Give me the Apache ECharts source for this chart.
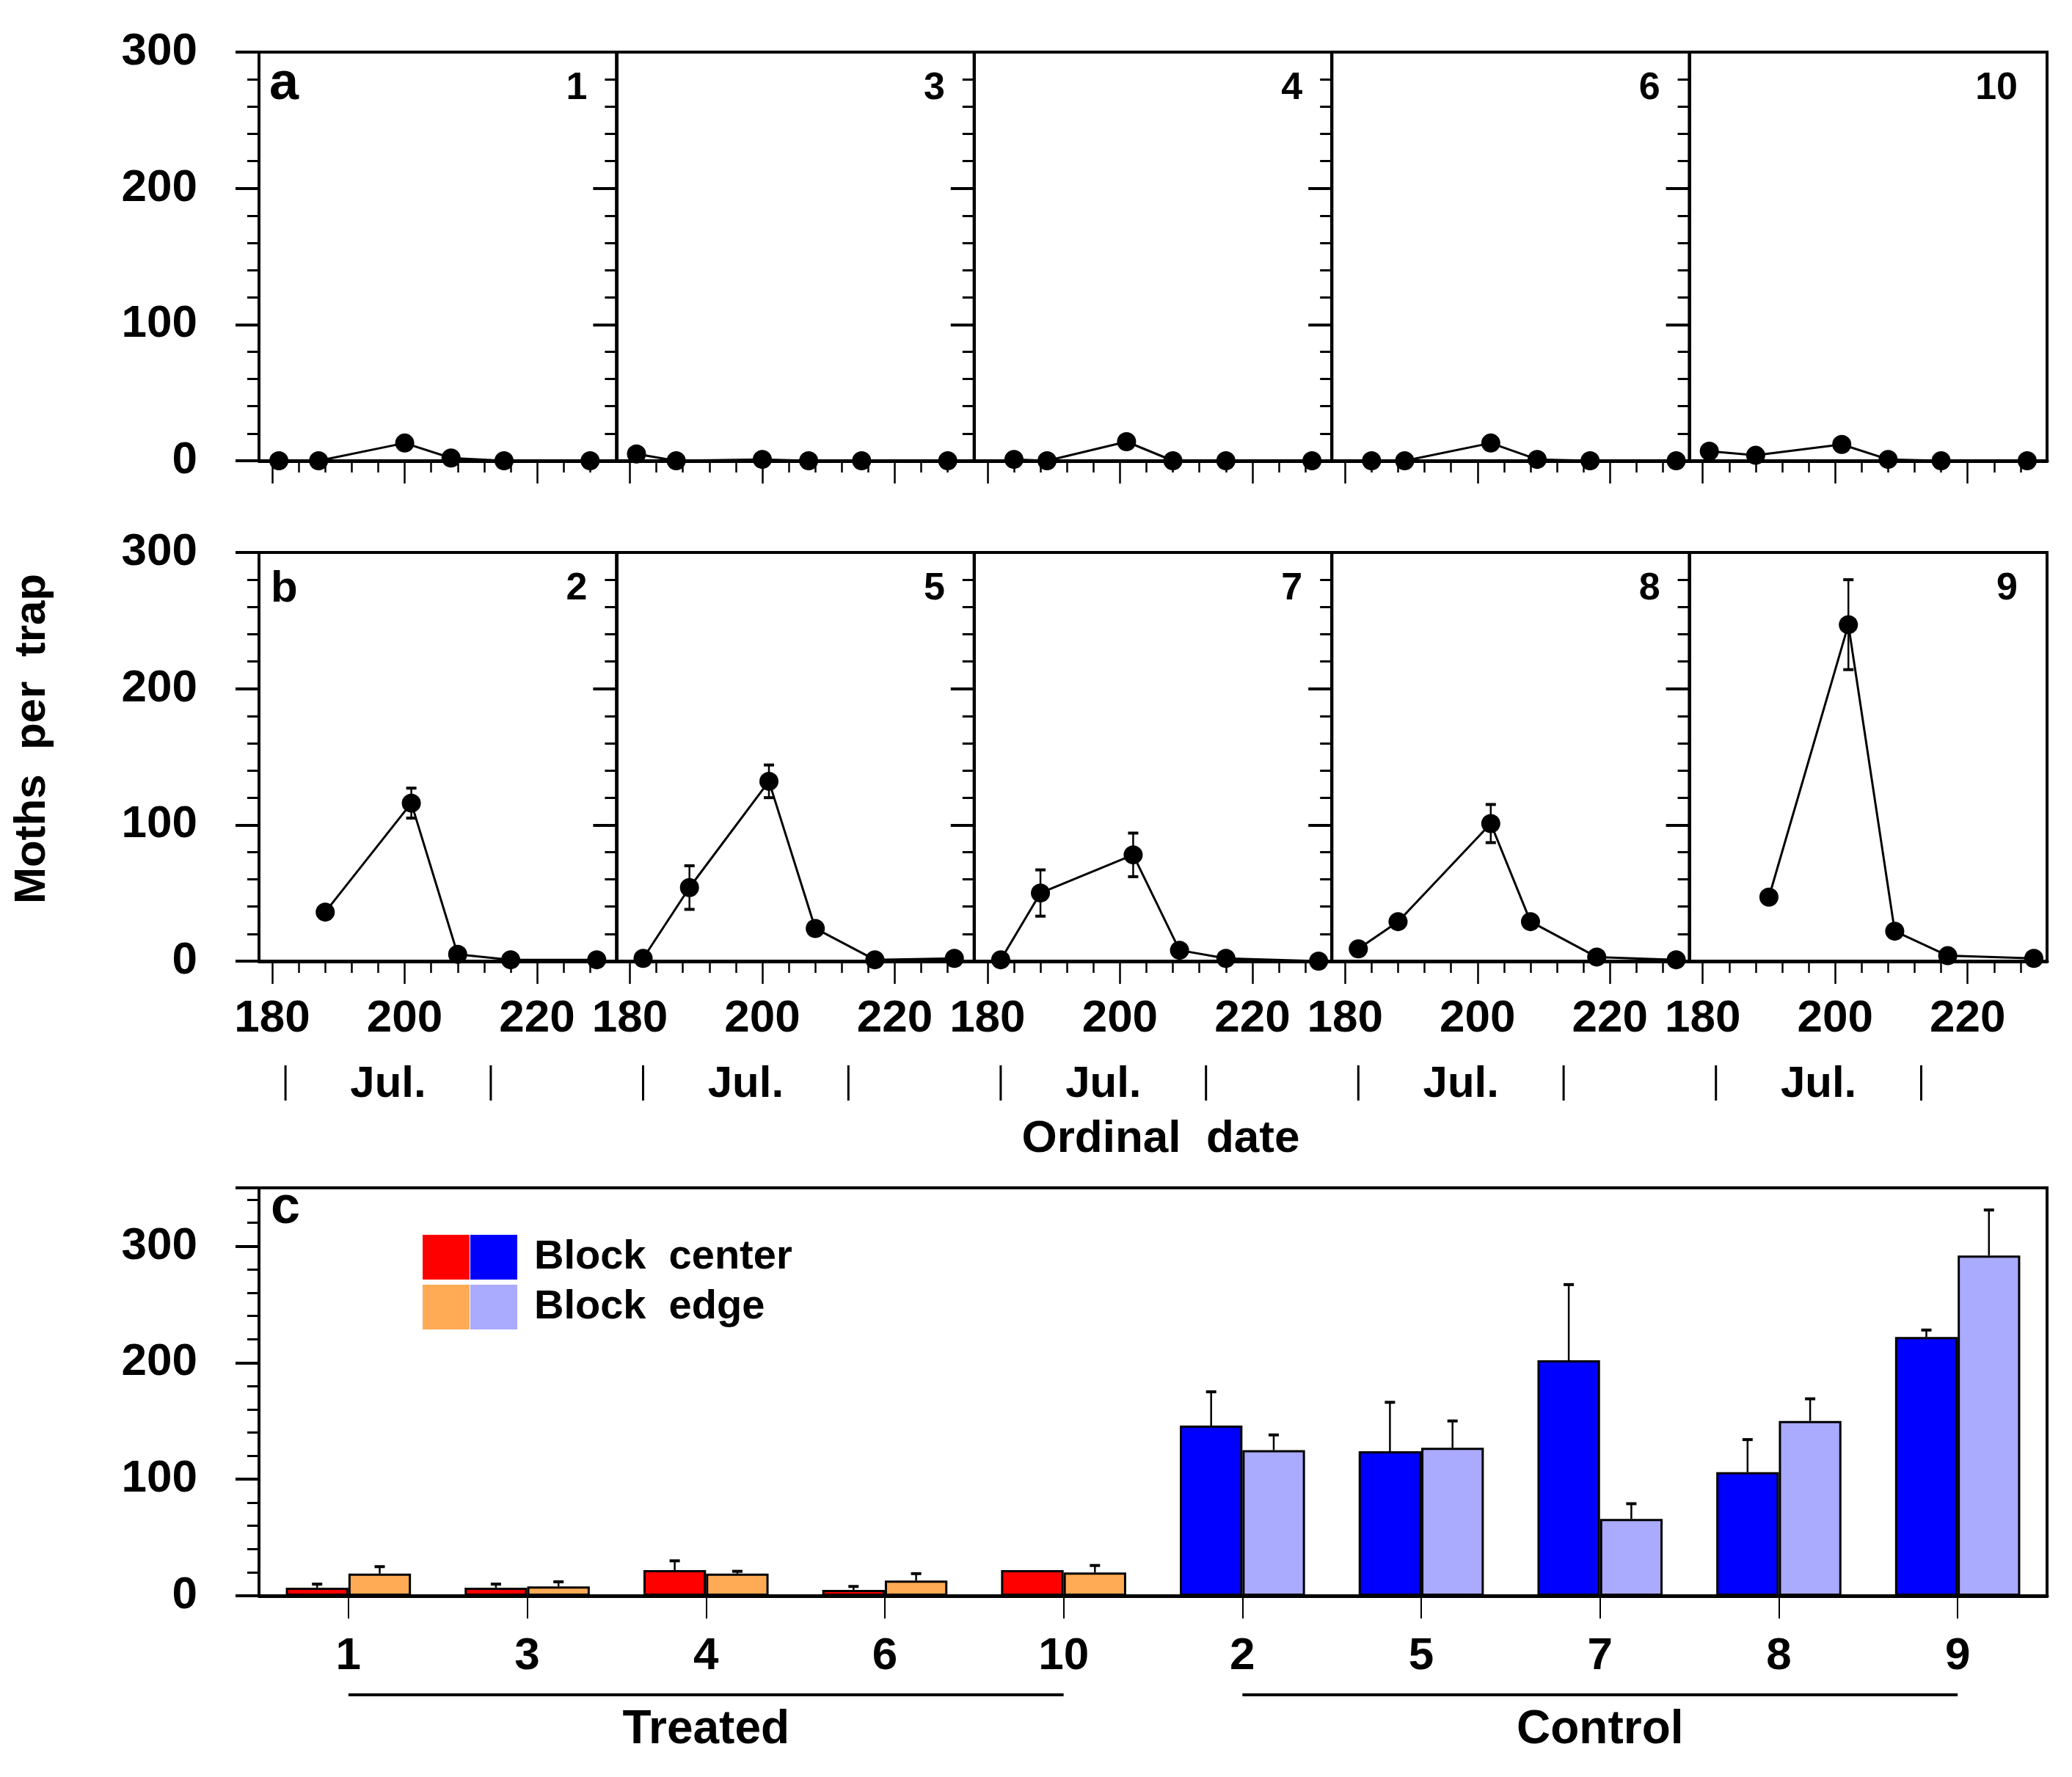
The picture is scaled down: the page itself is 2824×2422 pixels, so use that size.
<!DOCTYPE html>
<html lang="en">
<head>
    <meta charset="UTF-8">
    <title>Moths per trap</title>
    <style>
        html, body { margin: 0; padding: 0; background: #fff; }
        #main { width: 2824px; height: 2422px; }
    </style>
</head>
<body>
    <div id="main"></div>
    <script src="https://cdn.jsdelivr.net/npm/echarts@6/dist/echarts.min.js"></script>
    <script>
        // ---- data ----
        var trapsA = ['1', '3', '4', '6', '10'];
        var trapsB = ['2', '5', '7', '8', '9'];

        var daysA = [
            [181, 187, 200, 207, 215, 228],
            [181, 187, 200, 207, 215, 228],
            [184, 189, 201, 208, 216, 229],
            [184, 189, 202, 209, 217, 230],
            [181, 188, 201, 208, 216, 229]
        ];
        var mothsA = [
            [0, 0, 13, 2, 0, 0],
            [5, 0, 1, 0, 0, 0],
            [1, 0, 14, 0, 0, 0],
            [0, 0, 13, 1, 0, 0],
            [7, 4, 12, 1, 0, 0]
        ];
        var daysB = [
            [188, 201, 208, 216, 229],
            [182, 189, 201, 208, 217, 229],
            [182, 188, 202, 209, 216, 230],
            [182, 188, 202, 208, 218, 230],
            [190, 202, 209, 217, 230]
        ];
        var mothsB = [
            [36, 116, 5, 1, 1],
            [2, 54, 132, 24, 1, 2],
            [1, 50, 78, 8, 2, 0],
            [9, 29, 101, 29, 3, 1],
            [47, 247, 22, 4, 2]
        ];
        var errB = [
            [0, 11, 0, 0, 0],
            [0, 16, 12, 0, 0, 0],
            [0, 17, 16, 0, 0, 0],
            [0, 0, 14, 0, 0, 0],
            [0, 33, 0, 0, 0]
        ];
        var dayTicks = [180, 200, 220];
        var monthBounds = [182, 213];
        var monthName = 'Jul.';

        var barCats = ['1', '3', '4', '6', '10', '2', '5', '7', '8', '9'];
        var barGroup = ['Treated', 'Treated', 'Treated', 'Treated', 'Treated',
                        'Control', 'Control', 'Control', 'Control', 'Control'];
        var centerMean = [7, 7, 22, 5, 22, 146, 124, 202, 106, 222];
        var centerErr = [3, 3, 8, 3, 0, 29, 42, 65, 28, 6];
        var edgeMean = [19, 8, 19, 13, 20, 125, 127, 66, 150, 292];
        var edgeErr = [6, 4, 2, 6, 6, 13, 23, 13, 19, 39];
        var groupNames = ['Treated', 'Control'];
        var legendNames = ['Block  center', 'Block  edge'];

        var colCenter = { Treated: '#ff0000', Control: '#0000ff' };
        var colEdge = { Treated: '#ffaa55', Control: '#aaaaff' };

        // ---- layout ----
        var FONT = '"Liberation Sans", Arial, sans-serif';
        var panelLeft = 353, panelW = 487.4;
        var rowTop = [71, 753], rowH = 557;
        var barGrid = { left: 353, top: 1619, width: 2437, height: 556 };

        var chart = echarts.init(document.getElementById('main'));

        var grids = [], xAxes = [], yAxes = [], series = [];

        function errRender(params, api) {
            var e = api.value(2);
            if (!e) return null;
            var x = api.coord([api.value(0), api.value(1)])[0];
            var yTop = api.coord([api.value(0), api.value(1) + e])[1];
            var yBot = api.coord([api.value(0), api.value(1) - e])[1];
            var st = { stroke: '#000', lineWidth: 2.5 };
            return {
                type: 'group',
                children: [
                    { type: 'line', shape: { x1: x, y1: yTop, x2: x, y2: yBot }, style: st },
                    { type: 'line', shape: { x1: x - 7, y1: yTop, x2: x + 7, y2: yTop }, style: { stroke: '#000', lineWidth: 4 } },
                    { type: 'line', shape: { x1: x - 7, y1: yBot, x2: x + 7, y2: yBot }, style: { stroke: '#000', lineWidth: 4 } }
                ]
            };
        }

        var rows = [
            { traps: trapsA, days: daysA, moths: mothsA, err: null },
            { traps: trapsB, days: daysB, moths: mothsB, err: errB }
        ];

        rows.forEach(function (row, r) {
            row.traps.forEach(function (trap, c) {
                var k = r * 5 + c;
                grids.push({
                    left: panelLeft + c * panelW, top: rowTop[r], width: panelW, height: rowH,
                    show: true, borderColor: '#000', borderWidth: 4, backgroundColor: 'transparent'
                });
                xAxes.push({
                    type: 'value', gridIndex: k, min: 178, max: 232, splitNumber: 3,
                    axisLine: { show: true, onZero: false, lineStyle: { color: '#000', width: 5 } },
                    axisTick: { show: true, length: 31, customValues: dayTicks, lineStyle: { color: '#000', width: 2.5 } },
                    minorTick: { show: true, splitNumber: 5, length: 16, lineStyle: { color: '#000', width: 2.5 } },
                    axisLabel: {
                        show: r === 1, customValues: dayTicks, margin: 48,
                        fontSize: 62, fontWeight: 'bold', fontFamily: FONT, color: '#000'
                    },
                    splitLine: { show: false }
                });
                yAxes.push({
                    type: 'value', gridIndex: k, min: 0, max: 300, interval: 100,
                    axisLine: { show: true, lineStyle: { color: '#000', width: 4 } },
                    axisTick: { show: true, length: 32, lineStyle: { color: '#000', width: 4 } },
                    minorTick: { show: true, splitNumber: 5, length: 16, lineStyle: { color: '#000', width: 3 } },
                    axisLabel: {
                        show: c === 0, margin: 84,
                        fontSize: 62, fontWeight: 'bold', fontFamily: FONT, color: '#000'
                    },
                    splitLine: { show: false }
                });
                var pts = row.days[c].map(function (d, i) { return [d, row.moths[c][i]]; });
                if (row.err) {
                    series.push({
                        type: 'custom', xAxisIndex: k, yAxisIndex: k, z: 1,
                        renderItem: errRender, clip: false,
                        data: row.days[c].map(function (d, i) { return [d, row.moths[c][i], row.err[c][i]]; })
                    });
                }
                series.push({
                    type: 'line', name: 'Trap ' + trap, xAxisIndex: k, yAxisIndex: k, z: 3,
                    data: pts, symbol: 'circle', symbolSize: 26, showSymbol: true,
                    itemStyle: { color: '#000' }, lineStyle: { color: '#000', width: 3 }
                });
            });
        });

        // panel c: bars
        var bk = 10;
        grids.push({
            left: barGrid.left, top: barGrid.top, width: barGrid.width, height: barGrid.height,
            show: true, borderColor: '#000', borderWidth: 4
        });
        xAxes.push({
            type: 'category', gridIndex: bk, data: barCats,
            axisLine: { show: true, lineStyle: { color: '#000', width: 5 } },
            axisTick: { show: true, alignWithLabel: true, length: 31, lineStyle: { color: '#000', width: 2 } },
            axisLabel: { margin: 52, fontSize: 62, fontWeight: 'bold', fontFamily: FONT, color: '#000' },
            splitLine: { show: false }
        });
        yAxes.push({
            type: 'value', gridIndex: bk, min: 0, max: 350, interval: 100,
            axisLine: { show: true, lineStyle: { color: '#000', width: 4 } },
            axisTick: { show: true, length: 32, lineStyle: { color: '#000', width: 4 } },
            minorTick: { show: true, splitNumber: 5, length: 16, lineStyle: { color: '#000', width: 3 } },
            axisLabel: {
                margin: 84, showMaxLabel: false,
                fontSize: 62, fontWeight: 'bold', fontFamily: FONT, color: '#000'
            },
            splitLine: { show: false }
        });

        var barCatGap = 0.3;
        series.push({
            type: 'bar', name: legendNames[0], xAxisIndex: bk, yAxisIndex: bk,
            barGap: '0%', barCategoryGap: (barCatGap * 100) + '%',
            data: centerMean.map(function (v, i) {
                return { value: v, itemStyle: { color: colCenter[barGroup[i]] } };
            }),
            itemStyle: { borderColor: '#000', borderWidth: 3 }
        });
        series.push({
            type: 'bar', name: legendNames[1], xAxisIndex: bk, yAxisIndex: bk,
            barGap: '0%', barCategoryGap: (barCatGap * 100) + '%',
            data: edgeMean.map(function (v, i) {
                return { value: v, itemStyle: { color: colEdge[barGroup[i]] } };
            }),
            itemStyle: { borderColor: '#000', borderWidth: 3 }
        });

        function barErrRender(params, api) {
            var e = api.value(2);
            if (!e) return null;
            var band = api.size([1, 0])[0];
            var bw = band * (1 - barCatGap) / 2;
            var side = api.value(3) ? 1 : -1;
            var base = api.coord([api.value(0), api.value(1)]);
            var x = base[0] + side * bw / 2;
            var yTop = api.coord([api.value(0), api.value(1) + e])[1];
            return {
                type: 'group',
                children: [
                    { type: 'line', shape: { x1: x, y1: base[1], x2: x, y2: yTop }, style: { stroke: '#000', lineWidth: 2.5 } },
                    { type: 'line', shape: { x1: x - 7, y1: yTop, x2: x + 7, y2: yTop }, style: { stroke: '#000', lineWidth: 4 } }
                ]
            };
        }
        series.push({
            type: 'custom', xAxisIndex: bk, yAxisIndex: bk, z: 1, clip: false,
            renderItem: barErrRender,
            data: centerMean.map(function (v, i) { return [i, v, centerErr[i], 0]; })
        });
        series.push({
            type: 'custom', xAxisIndex: bk, yAxisIndex: bk, z: 1, clip: false,
            renderItem: barErrRender,
            data: edgeMean.map(function (v, i) { return [i, v, edgeErr[i], 1]; })
        });

        chart.setOption({
            animation: false,
            backgroundColor: '#fff',
            grid: grids,
            xAxis: xAxes,
            yAxis: yAxes,
            series: series
        });

        // ---- annotations ----
        var g = [];
        function txt(x, y, s, size, align, extra) {
            var o = {
                type: 'text', x: x, y: y, z: 100,
                style: {
                    text: s, fontSize: size, fontWeight: 'bold', fontFamily: FONT, fill: '#000',
                    align: align || 'center', verticalAlign: 'middle'
                }
            };
            if (extra) for (var key in extra) o[key] = extra[key];
            return o;
        }

        // panel letters and trap numbers
        g.push(txt(panelLeft + 14, rowTop[0] + 44, 'a', 72, 'left'));
        g.push(txt(panelLeft + 16, rowTop[1] + 50, 'b', 60, 'left'));
        g.push(txt(barGrid.left + 16, barGrid.top + 28, 'c', 72, 'left'));
        rows.forEach(function (row, r) {
            row.traps.forEach(function (trap, c) {
                g.push(txt(panelLeft + (c + 1) * panelW - 40, rowTop[r] + 50, trap, 52, 'right'));
            });
        });

        // month markers under row b
        for (var c = 0; c < 5; c++) {
            var k = 5 + c;
            var xa = chart.convertToPixel({ xAxisIndex: k }, monthBounds[0]);
            var xb = chart.convertToPixel({ xAxisIndex: k }, monthBounds[1]);
            [xa, xb].forEach(function (x) {
                g.push({ type: 'line', z: 100, shape: { x1: x, y1: 1452, x2: x, y2: 1500 }, style: { stroke: '#000', lineWidth: 3 } });
            });
            var xm = chart.convertToPixel({ xAxisIndex: k }, (monthBounds[0] + monthBounds[1]) / 2);
            g.push(txt(xm, 1478, monthName, 60, 'center'));
        }
        g.push(txt(1582, 1553, 'Ordinal  date', 62, 'center'));
        g.push(txt(44, 1007, 'Moths  per  trap', 60, 'center', { rotation: Math.PI / 2 }));

        // legend for panel c
        var lx = 576, ly = [1683, 1751], sq = 64;
        legendNames.forEach(function (name, i) {
            var cols = i === 0 ? [colCenter.Treated, colCenter.Control] : [colEdge.Treated, colEdge.Control];
            cols.forEach(function (col, j) {
                g.push({ type: 'rect', z: 100, shape: { x: lx + j * (sq + 1), y: ly[i], width: sq, height: 61 }, style: { fill: col } });
            });
            g.push(txt(lx + 2 * sq + 24, ly[i] + 31, name, 56, 'left'));
        });

        // Treated / Control brackets
        groupNames.forEach(function (name) {
            var first = barGroup.indexOf(name), last = barGroup.lastIndexOf(name);
            var x1 = chart.convertToPixel({ xAxisIndex: bk }, barCats[first]);
            var x2 = chart.convertToPixel({ xAxisIndex: bk }, barCats[last]);
            g.push({ type: 'line', z: 100, shape: { x1: x1, y1: 2310, x2: x2, y2: 2310 }, style: { stroke: '#000', lineWidth: 4 } });
            g.push(txt((x1 + x2) / 2, 2358, name, 64, 'center'));
        });

        chart.setOption({ graphic: g });
    </script>
</body>
</html>
